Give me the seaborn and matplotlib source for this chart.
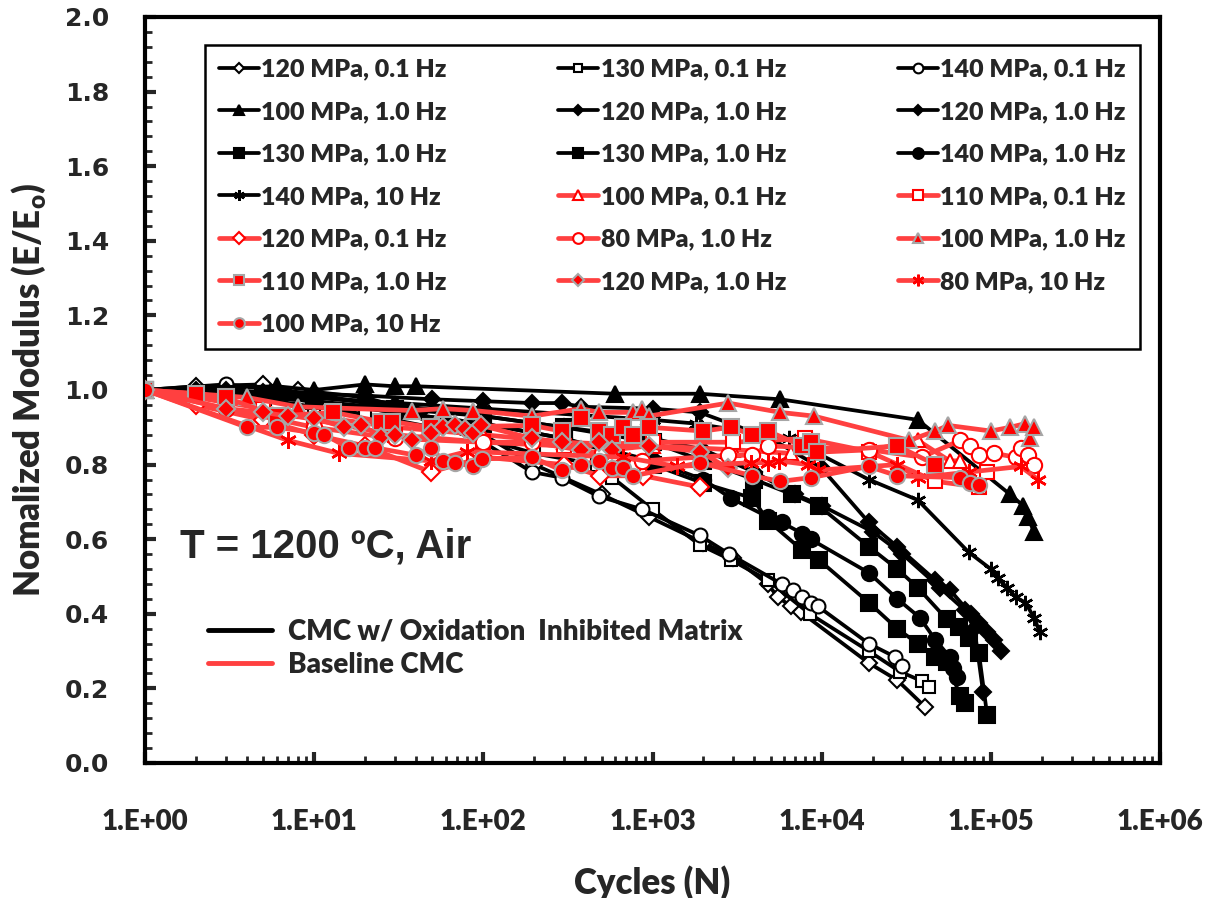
import numpy as np
import pandas as pd
import seaborn as sns
import matplotlib
matplotlib.use("Agg")
import matplotlib.pyplot as plt
from matplotlib.lines import Line2D
from matplotlib.ticker import FixedLocator, LogLocator, MultipleLocator, FuncFormatter, NullFormatter

# ---- CMC w/ oxidation inhibited matrix (black) ----
n_b120_01 = [1, 2, 5, 8, 20, 50, 100, 200, 500, 950, 2000, 3000, 4800, 5500, 6600, 7500, 1.9e4, 2.8e4, 4.1e4]
e_b120_01 = [1.0, 1.01, 1.015, 1.0, 0.98, 0.93, 0.88, 0.80, 0.72, 0.66, 0.59, 0.55, 0.48, 0.445, 0.42, 0.405, 0.268, 0.222, 0.15]
n_b130_01 = [1, 2, 3, 5, 10, 20, 50, 100, 200, 470, 580, 1000, 1900, 2900, 4800, 8500, 1.9e4, 2.9e4, 3.9e4, 4.3e4]
e_b130_01 = [1.0, 0.99, 0.985, 0.975, 0.955, 0.935, 0.90, 0.87, 0.83, 0.80, 0.765, 0.68, 0.585, 0.545, 0.49, 0.40, 0.30, 0.245, 0.22, 0.205]
n_b140_01 = [1, 3, 10, 30, 100, 194, 290, 480, 870, 1900, 2850, 5800, 6800, 7700, 8600, 9500, 1.9e4, 2.7e4, 3.0e4]
e_b140_01 = [1.0, 1.015, 0.99, 0.95, 0.86, 0.78, 0.765, 0.715, 0.68, 0.61, 0.56, 0.48, 0.465, 0.445, 0.43, 0.42, 0.32, 0.285, 0.26]
n_b100_1 = [1, 6, 10, 20, 30, 40, 600, 1900, 5700, 3.7e4, 1.3e5, 1.55e5, 1.65e5, 1.8e5]
e_b100_1 = [1.0, 1.01, 1.0, 1.015, 1.01, 1.01, 0.99, 0.99, 0.975, 0.92, 0.72, 0.69, 0.66, 0.62]
n_b120_1a = [1, 3, 5, 10, 20, 50, 100, 194, 290, 380, 1000, 1900, 5000, 1e4, 1.9e4, 2.8e4, 4.7e4, 5.7e4, 7.6e4, 8.5e4, 9.5e4, 1.05e5, 1.15e5]
e_b120_1a = [1.0, 1.0, 0.995, 0.99, 0.985, 0.975, 0.97, 0.965, 0.965, 0.955, 0.95, 0.94, 0.87, 0.79, 0.645, 0.58, 0.49, 0.465, 0.40, 0.375, 0.35, 0.33, 0.30]
n_b120_1b = [1, 2, 5, 10, 30, 100, 300, 1000, 2000, 4000, 7000, 1e4, 2e4, 3e4, 5e4, 7e4, 8e4, 9e4]
e_b120_1b = [1.0, 1.0, 0.99, 0.98, 0.96, 0.93, 0.90, 0.87, 0.84, 0.78, 0.72, 0.69, 0.62, 0.56, 0.47, 0.41, 0.36, 0.19]
n_b130_1a = [1, 2, 5, 10, 30, 100, 300, 1000, 2000, 4000, 6700, 9600, 1.9e4, 2.8e4, 3.7e4, 5.5e4, 6.5e4, 7.4e4, 8.5e4, 9.5e4]
e_b130_1a = [1.0, 0.99, 0.98, 0.97, 0.95, 0.93, 0.90, 0.86, 0.81, 0.76, 0.72, 0.69, 0.58, 0.52, 0.47, 0.385, 0.365, 0.335, 0.295, 0.13]
n_b130_1b = [1, 3, 10, 30, 100, 300, 1000, 2000, 3900, 4800, 7700, 9600, 1.9e4, 2.8e4, 3.7e4, 4.7e4, 5.5e4, 6.6e4, 7e4]
e_b130_1b = [1.0, 0.99, 0.97, 0.94, 0.91, 0.87, 0.80, 0.75, 0.71, 0.65, 0.57, 0.545, 0.43, 0.36, 0.32, 0.285, 0.27, 0.18, 0.16]
n_b140_1 = [1, 3, 10, 30, 100, 300, 1000, 2000, 2900, 4800, 5800, 7700, 8600, 1.9e4, 2.8e4, 3.8e4, 4.7e4, 5.7e4, 6e4, 6.3e4]
e_b140_1 = [1.0, 0.99, 0.97, 0.94, 0.91, 0.87, 0.81, 0.76, 0.71, 0.66, 0.645, 0.615, 0.60, 0.51, 0.44, 0.39, 0.33, 0.285, 0.255, 0.23]
n_b140_10 = [1, 2, 10, 100, 1000, 1800, 6400, 1.9e4, 3.7e4, 7.4e4, 1e5, 1.1e5, 1.25e5, 1.4e5, 1.6e5, 1.8e5, 1.95e5]
e_b140_10 = [1.0, 0.99, 0.98, 0.95, 0.92, 0.91, 0.87, 0.76, 0.705, 0.565, 0.52, 0.495, 0.47, 0.445, 0.43, 0.39, 0.35]

# ---- baseline CMC (red) ----
n_r100_01 = [1, 3, 10, 30, 100, 300, 1000, 3000, 6600, 2e4, 3.7e4, 5.7e4, 6.6e4]
e_r100_01 = [1.0, 0.97, 0.93, 0.90, 0.88, 0.86, 0.85, 0.84, 0.83, 0.84, 0.865, 0.81, 0.81]
n_r110_01 = [1, 2, 5, 10, 30, 100, 300, 1000, 3000, 8000, 1.9e4, 4.7e4, 8.5e4, 9.5e4]
e_r110_01 = [1.0, 0.98, 0.95, 0.92, 0.88, 0.86, 0.85, 0.86, 0.86, 0.87, 0.835, 0.755, 0.74, 0.78]
n_r120_01 = [1, 2, 5, 10, 20, 49, 100, 300, 490, 880, 1900]
e_r120_01 = [1.0, 0.96, 0.92, 0.88, 0.85, 0.78, 0.82, 0.80, 0.77, 0.77, 0.74]
n_r80_1 = [1, 3, 10, 30, 100, 194, 500, 870, 2800, 3900, 4800, 1.9e4, 3.9e4, 6.6e4, 7.5e4, 8.5e4, 1.05e5, 1.4e5, 1.5e5, 1.65e5, 1.8e5]
e_r80_1 = [1.0, 0.95, 0.90, 0.87, 0.86, 0.86, 0.83, 0.81, 0.825, 0.825, 0.85, 0.84, 0.82, 0.865, 0.85, 0.825, 0.83, 0.82, 0.845, 0.825, 0.80]
n_r100_1 = [1, 4, 8, 38, 58, 87, 194, 380, 480, 770, 870, 950, 2800, 5700, 9000, 3.3e4, 4.7e4, 5.6e4, 1.0e5, 1.3e5, 1.6e5, 1.7e5, 1.8e5]
e_r100_1 = [1.0, 0.98, 0.955, 0.945, 0.95, 0.945, 0.93, 0.95, 0.94, 0.94, 0.95, 0.93, 0.965, 0.94, 0.93, 0.865, 0.89, 0.905, 0.89, 0.90, 0.91, 0.87, 0.90]
n_r110_1 = [1, 2, 3, 6, 13, 25, 29, 49, 194, 290, 380, 480, 580, 670, 770, 950, 2000, 2900, 3900, 4800, 7700, 8600, 9400, 2.8e4, 4.7e4]
e_r110_1 = [1.0, 0.99, 0.98, 0.93, 0.94, 0.915, 0.915, 0.90, 0.905, 0.89, 0.925, 0.89, 0.88, 0.90, 0.88, 0.90, 0.89, 0.90, 0.88, 0.89, 0.85, 0.86, 0.835, 0.85, 0.80]
n_r120_1 = [1, 3, 5, 7, 10, 15, 19, 25, 30, 38, 49, 58, 68, 78, 87, 97, 194, 290, 380, 480, 580, 950, 1900, 2800]
e_r120_1 = [1.0, 0.95, 0.94, 0.93, 0.925, 0.90, 0.905, 0.875, 0.88, 0.865, 0.885, 0.90, 0.905, 0.895, 0.885, 0.905, 0.87, 0.86, 0.84, 0.86, 0.84, 0.85, 0.835, 0.79]
n_r80_10 = [1, 7, 14, 49, 80, 670, 1400, 3800, 4800, 5600, 8300, 9500, 2.8e4, 3.7e4, 7.4e4, 1.5e5, 1.9e5]
e_r80_10 = [1.0, 0.865, 0.83, 0.81, 0.835, 0.82, 0.795, 0.805, 0.805, 0.81, 0.80, 0.785, 0.80, 0.765, 0.78, 0.795, 0.76]
n_r100_10 = [1, 4, 6, 10, 11.5, 16, 20, 23, 40, 49, 58, 68, 87, 98, 194, 290, 380, 480, 580, 670, 770, 1900, 3900, 5700, 8600, 1.9e4, 2.8e4, 6.6e4, 7.5e4, 8.5e4]
e_r100_10 = [1.0, 0.90, 0.90, 0.885, 0.88, 0.845, 0.845, 0.845, 0.825, 0.845, 0.81, 0.805, 0.795, 0.815, 0.82, 0.785, 0.80, 0.81, 0.79, 0.79, 0.77, 0.805, 0.77, 0.755, 0.765, 0.795, 0.77, 0.765, 0.75, 0.745]

labels = ["120 MPa, 0.1 Hz", "130 MPa, 0.1 Hz", "140 MPa, 0.1 Hz",
          "100 MPa, 1.0 Hz", "120 MPa, 1.0 Hz", "120 MPa, 1.0 Hz",
          "130 MPa, 1.0 Hz", "130 MPa, 1.0 Hz", "140 MPa, 1.0 Hz",
          "140 MPa, 10 Hz", "100 MPa, 0.1 Hz", "110 MPa, 0.1 Hz",
          "120 MPa, 0.1 Hz", "80 MPa, 1.0 Hz", "100 MPa, 1.0 Hz",
          "110 MPa, 1.0 Hz", "120 MPa, 1.0 Hz", "80 MPa, 10 Hz",
          "100 MPa, 10 Hz"]
x_ticks = [1, 10, 100, 1e3, 1e4, 1e5, 1e6]

series_n = [n_b120_01, n_b130_01, n_b140_01, n_b100_1, n_b120_1a, n_b120_1b,
            n_b130_1a, n_b130_1b, n_b140_1, n_b140_10,
            n_r100_01, n_r110_01, n_r120_01, n_r80_1, n_r100_1, n_r110_1,
            n_r120_1, n_r80_10, n_r100_10]
series_e = [e_b120_01, e_b130_01, e_b140_01, e_b100_1, e_b120_1a, e_b120_1b,
            e_b130_1a, e_b130_1b, e_b140_1, e_b140_10,
            e_r100_01, e_r110_01, e_r120_01, e_r80_1, e_r100_1, e_r110_1,
            e_r120_1, e_r80_10, e_r100_10]

BLK = "black"
RED_LINE = "#ff4040"
RED = "#ff0000"
GREY = "#a6a6a6"
ASTER = (6, 2, 0)

# marker, face, edge, size
styles = [
    ("D", "white", BLK, 8), ("s", "white", BLK, 9), ("o", "white", BLK, 10),
    ("^", BLK, BLK, 11), ("D", BLK, BLK, 8), ("D", BLK, BLK, 8),
    ("s", BLK, BLK, 11), ("s", BLK, BLK, 11), ("o", BLK, BLK, 11),
    (ASTER, BLK, BLK, 11),
    ("^", "white", RED, 10), ("s", "white", RED, 10), ("D", "white", RED, 9),
    ("o", "white", RED, 11), ("^", RED, GREY, 11), ("s", RED, GREY, 11),
    ("D", RED, GREY, 9), (ASTER, RED, RED, 12), ("o", RED, GREY, 11),
]

sns.set_style("white")
plt.rcParams["font.family"] = ["Lato", "DejaVu Sans"]

fig = plt.figure(figsize=(12.12, 8.98), dpi=100)
ax = fig.add_axes([145 / 1212, 1 - 763 / 898, 1015 / 1212, 746 / 898])

handles = []
for i, (n, e) in enumerate(zip(series_n, series_e)):
    mk, fc, ec, ms = styles[i]
    red = i >= 10
    df = pd.DataFrame({"N": n, "E": e})
    sns.lineplot(data=df, x="N", y="E", ax=ax, estimator=None,
                 color=RED_LINE if red else BLK, lw=3.4 if red else 2.7,
                 marker=mk, markersize=ms, markerfacecolor=fc, markeredgecolor=ec,
                 markeredgewidth=1.5 if mk != ASTER else 1.8, label=labels[i],
                 zorder=3 if red else 2, legend=False)
    handles.append(ax.get_lines()[-1])

ax.set_xscale("log")
ax.set_xlim(1, 1e6)
ax.set_ylim(0, 2.0)
ax.xaxis.set_major_locator(FixedLocator(x_ticks))
ax.xaxis.set_minor_locator(LogLocator(base=10, subs=np.arange(2, 10), numticks=20))
ax.xaxis.set_minor_formatter(NullFormatter())
ax.xaxis.set_major_formatter(FuncFormatter(lambda v, p: "1.E+%02d" % int(round(np.log10(v)))))
ax.yaxis.set_major_locator(MultipleLocator(0.2))
ax.yaxis.set_minor_locator(MultipleLocator(0.04))
ax.yaxis.set_major_formatter(FuncFormatter(lambda v, p: "%.1f" % v))

for s in ax.spines.values():
    s.set_linewidth(3)
    s.set_color("black")
ax.tick_params(axis="both", which="major", direction="in", length=8, width=3,
               left=True, bottom=True, right=False, top=False)
ax.tick_params(axis="both", which="minor", direction="in", length=5, width=2,
               left=True, bottom=True, right=False, top=False)
ax.tick_params(axis="x", which="major", pad=33, labelsize=20)
ax.tick_params(axis="y", which="major", pad=26)
for t in ax.get_xticklabels():
    t.set_fontweight("heavy")
for t in ax.get_yticklabels():
    t.set_fontfamily("DejaVu Sans")
    t.set_fontweight("bold")
    t.set_fontsize(18)

ax.set_xlabel("Cycles (N)", fontsize=25, fontweight="heavy", labelpad=22)
ax.set_ylabel(r"Nomalized Modulus (E/E$_{\mathregular{o}}$)", fontsize=25,
              fontweight="heavy", labelpad=12)

order = [0, 3, 6, 9, 12, 15, 18, 1, 4, 7, 10, 13, 16, 2, 5, 8, 11, 14, 17]
leg = ax.legend([handles[k] for k in order], [labels[k] for k in order],
                ncol=3, loc="upper left", mode="expand", borderaxespad=0,
                bbox_to_anchor=(0.059, 0.551, 0.921, 0.4115),
                prop={"family": "Lato", "weight": "heavy", "size": 18},
                handlelength=1.6, handletextpad=0.1, labelspacing=0.82,
                borderpad=0.55, fancybox=False, framealpha=1, markerscale=0.7)
leg.get_frame().set_edgecolor("black")
leg.get_frame().set_linewidth(1.8)
ax.add_artist(leg)

grp = [Line2D([], [], color=BLK, lw=3.5), Line2D([], [], color=RED_LINE, lw=3.5)]
leg2 = ax.legend(grp, ["CMC w/ Oxidation  Inhibited Matrix", "Baseline CMC"],
                 loc="upper left", bbox_to_anchor=(0.051, 0.208), frameon=False,
                 borderaxespad=0,
                 prop={"family": "Lato", "weight": "heavy", "size": 20},
                 handlelength=2.3, handletextpad=0.6, labelspacing=0.25)

ax.text(0.034, 0.29, "T = 1200 ºC, Air", transform=ax.transAxes,
        fontsize=29, fontweight="bold", family="Liberation Sans", va="center")

fig.savefig("out.png", dpi=100)
